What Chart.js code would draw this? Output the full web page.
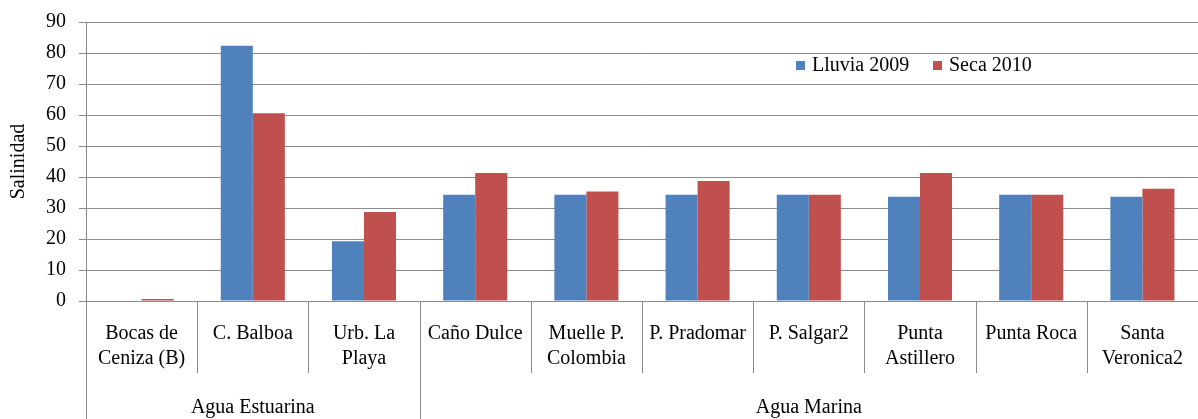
<!DOCTYPE html>
<html>
<head>
<meta charset="utf-8">
<script src="https://cdn.jsdelivr.net/npm/chart.js@4"></script>
<style>
  html, body { margin: 0; padding: 0; background: #fff; }
  #wrap { width: 1198px; height: 419px; }
</style>
</head>
<body>
<div id="wrap"><canvas id="salChart" width="1198" height="419"></canvas></div>
<script>
const categories = [
    ['Bocas de', 'Ceniza (B)'], ['C. Balboa'], ['Urb. La', 'Playa'], ['Caño Dulce'],
    ['Muelle P.', 'Colombia'], ['P. Pradomar'], ['P. Salgar2'], ['Punta', 'Astillero'],
    ['Punta Roca'], ['Santa', 'Veronica2']
];
const groups = ['Agua Estuarina', 'Agua Marina'];
const groupSizes = [3, 7];
const lluvia2009 = [0, 82.3, 19.3, 34.3, 34.3, 34.3, 34.3, 33.6, 34.3, 33.6];
const seca2010 = [0.65, 60.6, 28.7, 41.3, 35.3, 38.7, 34.3, 41.3, 34.3, 36.2];
const yMin = 0, yMax = 90, yStep = 10;

const serif = '"Liberation Serif", "Times New Roman", serif';
const gridGray = '#8c8c8c';

// multi-level x axis labels + the legend, drawn after the chart
const xLabels = {
    id: 'xLabels',
    afterDraw(chart) {
        const ctx = chart.ctx;
        const x = chart.scales.x;
        const area = chart.chartArea;
        const half = (x.getPixelForValue(1) - x.getPixelForValue(0)) / 2;
        ctx.save();
        ctx.strokeStyle = gridGray;
        ctx.lineWidth = 1;
        ctx.fillStyle = '#000';
        ctx.font = '20px ' + serif;
        ctx.textAlign = 'center';
        ctx.textBaseline = 'middle';

        const bottom = area.bottom;
        for (let i = 0; i <= categories.length; i++) {
            const px = Math.round(x.getPixelForValue(i) - half) + 0.5;
            ctx.beginPath();
            ctx.moveTo(px, bottom);
            ctx.lineTo(px, bottom + 72);
            ctx.stroke();
        }
        categories.forEach((lines, i) => {
            const cx = x.getPixelForValue(i);
            lines.forEach((t, j) => ctx.fillText(t, cx, bottom + 33 + j * 25));
        });

        let start = 0;
        groups.forEach((g, k) => {
            const end = start + groupSizes[k];
            const left = x.getPixelForValue(start) - half;
            const right = x.getPixelForValue(end - 1) + half;
            [left, right].forEach(px => {
                const p = Math.round(px) + 0.5;
                ctx.beginPath();
                ctx.moveTo(p, bottom);
                ctx.lineTo(p, chart.height);
                ctx.stroke();
            });
            ctx.fillText(g, (left + right) / 2, bottom + 107);
            start = end;
        });

        // legend
        const items = chart.data.datasets;
        const legendX = [796, 933];
        items.forEach((ds, i) => {
            ctx.fillStyle = ds.backgroundColor;
            ctx.fillRect(legendX[i], 61, 9, 9);
            ctx.fillStyle = '#000';
            ctx.textAlign = 'left';
            ctx.fillText(ds.label, legendX[i] + 16, 66);
        });
        ctx.restore();
    }
};

new Chart(document.getElementById('salChart').getContext('2d'), {
    type: 'bar',
    data: {
        labels: categories.map(c => c.join(' ')),
        datasets: [
            { label: 'Lluvia 2009', data: lluvia2009, backgroundColor: '#4F81BD' },
            { label: 'Seca 2010', data: seca2010, backgroundColor: '#C0504D' }
        ]
    },
    options: {
        responsive: false,
        animation: false,
        layout: { padding: { top: 22, right: 0, bottom: 0, left: 0 } },
        datasets: { bar: { categoryPercentage: 0.576, barPercentage: 1 } },
        scales: {
            x: {
                ticks: { display: false },
                grid: { display: false },
                border: { display: false },
                afterFit: (s) => { s.height = 118; }
            },
            y: {
                min: yMin, max: yMax,
                ticks: { stepSize: yStep, color: '#000', padding: 13, font: { family: serif, size: 20 } },
                grid: { color: gridGray, lineWidth: 1, tickLength: 7 },
                border: { color: gridGray },
                title: { display: true, text: 'Salinidad', color: '#000', padding: { top: 7, bottom: 0 }, font: { family: serif, size: 20 } },
                afterFit: (s) => { s.width = 86; s.paddingTop = 0; s.paddingBottom = 0; }
            }
        },
        plugins: {
            legend: { display: false },
            tooltip: { enabled: false }
        }
    },
    plugins: [xLabels]
});
</script>
</body>
</html>
